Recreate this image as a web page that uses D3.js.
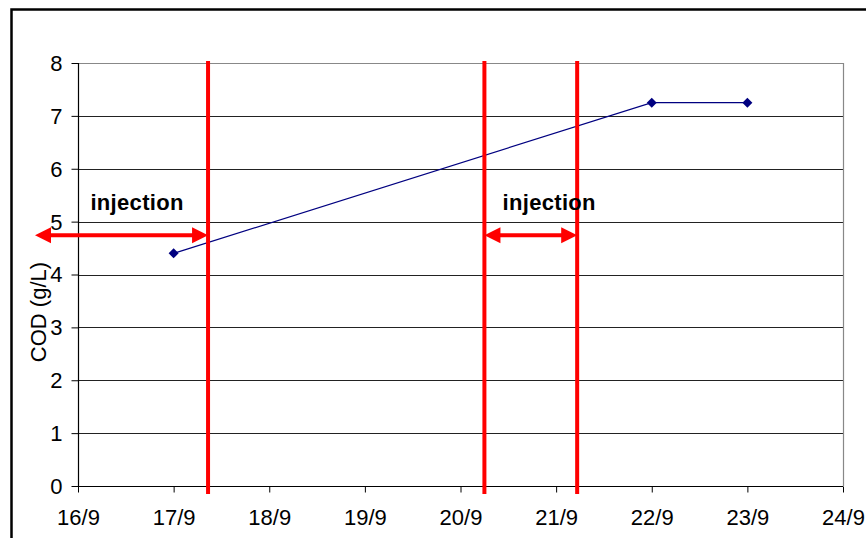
<!DOCTYPE html>
<html><head><meta charset="utf-8">
<script src="https://cdn.jsdelivr.net/npm/d3@7"></script>
<style>body{margin:0;background:#fff}svg{display:block}text{font-family:Arial,"Liberation Sans",sans-serif}</style>
</head><body>
<script>
// data
const days = [17, 22, 23];          // day of September
const cod = [4.4, 7.25, 7.25];       // COD (g/L)
const xTicks = [16, 17, 18, 19, 20, 21, 22, 23, 24];
const yTicks = [0, 1, 2, 3, 4, 5, 6, 7, 8];
const injectionLines = [17.36, 20.25, 21.22];
const injectionArrows = [[15.55, 17.36], [20.25, 21.22]];
const arrowLevel = 4.74;
const injectionLabels = ["injection", "injection"];
const labelLevel = 5.22;
const labelX = [16.13, 20.44];

const W = 866, H = 538;
const svg = d3.select("body").append("svg").attr("width", W).attr("height", H);
const m = {l: 78, t: 63, r: 843, b: 486};
const x = d3.scaleLinear().domain([16, 24]).range([m.l, m.r]);
const y = d3.scaleLinear().domain([0, 8]).range([m.b, m.t]);

// outer frame
svg.append("rect").attr("x", 11.5).attr("y", 9.5).attr("width", 900).attr("height", 600)
  .attr("fill", "none").attr("stroke", "#000").attr("stroke-width", 2.5);

// gridlines
svg.append("g").selectAll("line").data(yTicks.filter(d => d > 0 && d < 8)).join("line")
  .attr("x1", m.l).attr("x2", m.r).attr("y1", d => Math.round(y(d)) + 0.5).attr("y2", d => Math.round(y(d)) + 0.5)
  .attr("stroke", "#222").attr("stroke-width", 1);
// plot border top/right gray
svg.append("path").attr("d", `M${m.l},${m.t + 0.5}H${m.r + 0.5}V${m.b}`)
  .attr("fill", "none").attr("stroke", "#888").attr("stroke-width", 1.2);

// axes
const yAxis = d3.axisLeft(y).tickValues(yTicks).tickSize(7).tickPadding(9).tickFormat(d3.format("d"));
const gy = svg.append("g").attr("transform", `translate(${m.l + 0.5},0)`).call(yAxis);
const xAxis = d3.axisBottom(x).tickValues(xTicks).tickSize(6).tickPadding(17).tickFormat(d => d + "/9");
const gx = svg.append("g").attr("transform", `translate(0,${m.b + 0.5})`).call(xAxis);
[gx, gy].forEach(g => {
  g.select(".domain").attr("stroke", "#000").attr("stroke-width", 1.2);
  g.selectAll(".tick line").attr("stroke", "#000");
  g.selectAll(".tick text").attr("font-size", 22).attr("fill", "#000").attr("font-family", "Arial, 'Liberation Sans', sans-serif");
});
gx.select(".domain").attr("d", `M${m.l},0H${m.r}`);
gy.select(".domain").attr("d", `M0,${m.b}V${m.t}`);
gy.selectAll(".tick text").attr("dy", "0.34em");
gx.selectAll(".tick text").attr("dy", "0.71em");

// axis title
svg.append("text").attr("transform", "translate(46,312) rotate(-90)").attr("text-anchor", "middle")
  .attr("font-size", 22).attr("fill", "#000").text("COD (g/L)");

// data line
svg.append("path").datum(days.map((d, i) => [d, cod[i]]))
  .attr("d", d3.line().x(d => x(d[0])).y(d => y(d[1])))
  .attr("fill", "none").attr("stroke", "#000080").attr("stroke-width", 1.2);
svg.append("g").selectAll("path").data(days.map((d, i) => [d, cod[i]])).join("path")
  .attr("transform", d => `translate(${x(d[0])},${y(d[1])})`)
  .attr("d", "M0,-5L5,0L0,5L-5,0Z").attr("fill", "#000080");

// red injection lines
svg.append("g").selectAll("line").data(injectionLines).join("line")
  .attr("x1", d => x(d)).attr("x2", d => x(d)).attr("y1", 61).attr("y2", 494)
  .attr("stroke", "#ff0000").attr("stroke-width", 4);

// arrows
const ay = y(arrowLevel);
const ag = svg.append("g");
injectionArrows.forEach(([a, b]) => {
  const x0 = x(a), x1 = x(b);
  const hl = 16, hw = 8;
  ag.append("line").attr("x1", x0 + hl - 2).attr("x2", x1 - hl + 2).attr("y1", ay).attr("y2", ay)
    .attr("stroke", "#ff0000").attr("stroke-width", 4);
  ag.append("path").attr("d", `M${x0},${ay}L${x0 + hl},${ay - hw}L${x0 + hl},${ay + hw}Z`).attr("fill", "#ff0000");
  ag.append("path").attr("d", `M${x1},${ay}L${x1 - hl},${ay - hw}L${x1 - hl},${ay + hw}Z`).attr("fill", "#ff0000");
});

// labels
svg.append("g").selectAll("text").data(injectionLabels).join("text")
  .attr("x", (d, i) => x(labelX[i])).attr("y", y(labelLevel))
  .attr("font-size", 22).attr("font-weight", "bold").attr("fill", "#000")
  .attr("textLength", 93).attr("lengthAdjust", "spacing").text(d => d);
</script>
</body></html>
